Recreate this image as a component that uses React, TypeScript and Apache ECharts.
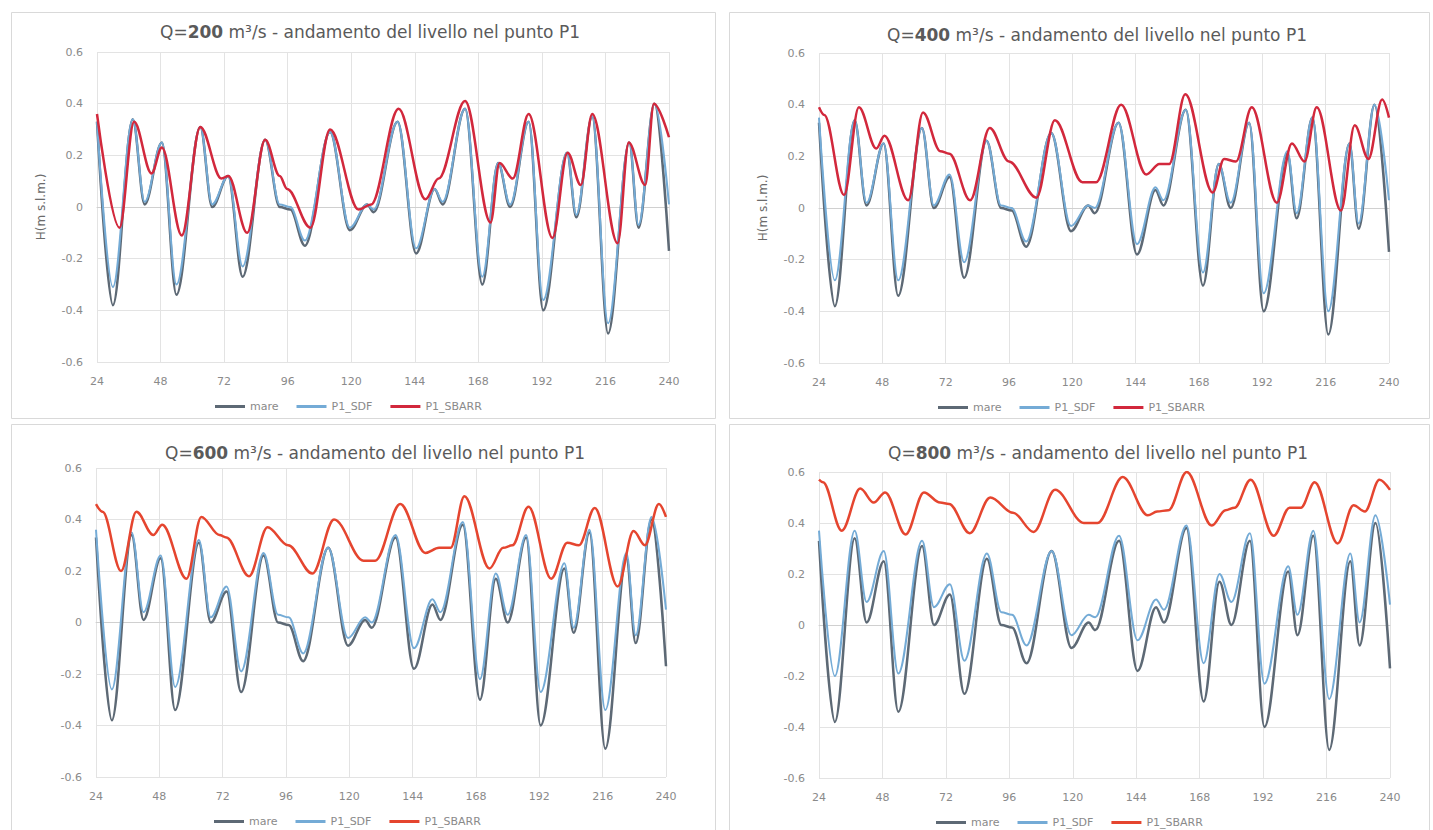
import React, { useEffect, useRef } from 'react';
import * as echarts from 'echarts';

// ---- data (hours, level m s.l.m.) ----
const discharges = ['200', '400', '600', '800'];
const seriesNames = ['mare', 'P1_SDF', 'P1_SBARR'];

const mareHours = [24, 30, 37.5, 42, 48.5, 54, 63, 67.5, 73.5, 79, 87.5, 93, 97, 102.5, 112, 119.5, 126, 128.5, 137.5, 144.5, 151.5, 154.5, 163, 169.5, 175.5, 180, 187, 192.5, 201.5, 205, 211, 217, 225, 228.5, 234.5, 240];
const mareLevel = [0.33, -0.38, 0.34, 0.01, 0.25, -0.34, 0.31, 0.0, 0.12, -0.27, 0.26, 0.0, -0.01, -0.15, 0.29, -0.09, 0.01, -0.02, 0.33, -0.18, 0.07, 0.01, 0.38, -0.30, 0.17, 0.0, 0.33, -0.40, 0.21, -0.04, 0.35, -0.49, 0.25, -0.08, 0.40, -0.17];

const sdfQ200 = [0.33, -0.31, 0.34, 0.02, 0.25, -0.30, 0.31, 0.01, 0.12, -0.23, 0.26, 0.01, 0.0, -0.13, 0.29, -0.08, 0.01, -0.01, 0.33, -0.16, 0.07, 0.02, 0.38, -0.27, 0.17, 0.01, 0.33, -0.36, 0.21, -0.03, 0.35, -0.45, 0.25, -0.07, 0.40, 0.01];
const sdfQ400 = [0.35, -0.28, 0.34, 0.02, 0.25, -0.28, 0.31, 0.01, 0.13, -0.21, 0.26, 0.01, 0.0, -0.13, 0.29, -0.07, 0.01, 0.0, 0.33, -0.14, 0.08, 0.03, 0.38, -0.25, 0.17, 0.02, 0.33, -0.33, 0.22, -0.02, 0.35, -0.40, 0.25, -0.06, 0.40, 0.03];
const sdfQ600 = [0.36, -0.26, 0.35, 0.04, 0.26, -0.25, 0.32, 0.02, 0.14, -0.19, 0.27, 0.03, 0.02, -0.12, 0.29, -0.06, 0.02, 0.0, 0.34, -0.10, 0.09, 0.04, 0.39, -0.22, 0.19, 0.03, 0.34, -0.27, 0.23, -0.02, 0.36, -0.34, 0.27, -0.05, 0.41, 0.05];
const sdfQ800 = [0.37, -0.20, 0.37, 0.09, 0.29, -0.19, 0.33, 0.07, 0.16, -0.14, 0.28, 0.05, 0.04, -0.08, 0.29, -0.04, 0.04, 0.03, 0.35, -0.06, 0.10, 0.06, 0.39, -0.15, 0.20, 0.09, 0.36, -0.23, 0.23, 0.04, 0.37, -0.29, 0.28, 0.01, 0.43, 0.08];

const sbarrHoursQ200 = [24, 32.5, 38, 44.6, 48.5, 56, 63, 71, 73.6, 80.7, 87.5, 93, 95.8, 104.6, 112, 122.8, 127.5, 137.9, 148, 153, 163, 172.6, 176, 181, 187, 196, 201.7, 206.7, 211, 220.6, 224.8, 231, 234.3, 240];
const sbarrLevelQ200 = [0.36, -0.08, 0.33, 0.13, 0.23, -0.11, 0.31, 0.11, 0.12, -0.10, 0.26, 0.12, 0.07, -0.08, 0.30, -0.01, 0.01, 0.38, 0.03, 0.11, 0.41, -0.06, 0.17, 0.11, 0.36, -0.12, 0.21, 0.085, 0.36, -0.14, 0.25, 0.085, 0.40, 0.27];

const sbarrHoursQ400 = [24, 26, 33.5, 39.1, 45.7, 48.8, 57.8, 63.4, 70, 73.4, 81.3, 88.7, 96, 106.4, 113.4, 123.8, 129, 138.5, 148, 153, 156.7, 162.8, 173.2, 177.5, 182, 188, 197.5, 203.2, 208, 212.6, 221.8, 227, 232.2, 237.4, 240];
const sbarrLevelQ400 = [0.39, 0.36, 0.05, 0.39, 0.23, 0.28, 0.03, 0.37, 0.22, 0.21, 0.03, 0.31, 0.18, 0.04, 0.34, 0.10, 0.10, 0.40, 0.13, 0.17, 0.17, 0.44, 0.06, 0.19, 0.18, 0.39, 0.02, 0.25, 0.18, 0.39, -0.01, 0.32, 0.19, 0.42, 0.35];

const sbarrHoursQ600 = [24, 26.5, 33.5, 39.3, 45.7, 49.1, 58.3, 63.9, 70.8, 73.4, 82, 89, 96.8, 106, 114.2, 125.4, 129.8, 139.3, 148.8, 154, 158.4, 163.6, 173.1, 178.3, 181.8, 187.9, 196.5, 202.6, 207, 213, 221.7, 227.7, 232, 237.3, 240];
const sbarrLevelQ600 = [0.46, 0.43, 0.20, 0.43, 0.34, 0.38, 0.17, 0.41, 0.34, 0.33, 0.18, 0.37, 0.30, 0.19, 0.40, 0.24, 0.24, 0.46, 0.27, 0.29, 0.29, 0.49, 0.21, 0.29, 0.30, 0.45, 0.17, 0.31, 0.30, 0.445, 0.14, 0.355, 0.30, 0.46, 0.41];

const sbarrHoursQ800 = [24, 25.5, 32.6, 39.6, 44.7, 49, 56.8, 63.7, 69.8, 73.2, 81, 88.8, 97.4, 105.2, 113.3, 124.2, 129.4, 138.9, 148.4, 151.9, 156.2, 163.1, 172.6, 177.8, 181.2, 187.3, 196, 202, 206.3, 211.5, 220.2, 226.2, 230.5, 236, 240];
const sbarrLevelQ800 = [0.57, 0.56, 0.37, 0.535, 0.48, 0.52, 0.355, 0.52, 0.48, 0.475, 0.36, 0.50, 0.44, 0.365, 0.53, 0.40, 0.40, 0.58, 0.43, 0.445, 0.45, 0.60, 0.39, 0.45, 0.46, 0.57, 0.35, 0.46, 0.46, 0.56, 0.32, 0.47, 0.445, 0.57, 0.53];

const sdfLevels = [sdfQ200, sdfQ400, sdfQ600, sdfQ800];
const sbarrHours = [sbarrHoursQ200, sbarrHoursQ400, sbarrHoursQ600, sbarrHoursQ800];
const sbarrLevels = [sbarrLevelQ200, sbarrLevelQ400, sbarrLevelQ600, sbarrLevelQ800];

// ---- layout / style ----
const FONT = 'DejaVu Sans';
const grids = [
  { left: 97, top: 52, width: 572, height: 310 },
  { left: 819, top: 53, width: 570, height: 310 },
  { left: 96, top: 468, width: 570, height: 309 },
  { left: 819, top: 472, width: 571, height: 306 },
];
const titlePos = [
  { x: 370, y: 32 },
  { x: 1097, y: 35 },
  { x: 375, y: 453 },
  { x: 1098, y: 453 },
];
const legendPos = [
  { left: 210, top: 396 },
  { left: 933, top: 397 },
  { left: 209, top: 811 },
  { left: 931, top: 812 },
];
const panels = [
  { x: 11.5, y: 12.5, w: 704, h: 406 },
  { x: 729.5, y: 12.5, w: 700, h: 406 },
  { x: 11.5, y: 424.5, w: 704, h: 420 },
  { x: 729.5, y: 424.5, w: 700, h: 420 },
];
const MARE_COLOR = '#5d6975';
const SDF_COLOR = '#74abd6';
const SBARR_COLORS = ['#d2283c', '#d2283c', '#e5452f', '#e5452f'];

function pairs(xs: number[], ys: number[]) {
  return xs.map((x, i) => [x, ys[i]]);
}

export default function App() {
  const ref = useRef<HTMLDivElement>(null);
  useEffect(() => {
    if (!ref.current) return;
    const chart = echarts.init(ref.current, null, { renderer: 'svg' });

    const xAxis: any[] = [];
    const yAxis: any[] = [];
    const series: any[] = [];
    const legend: any[] = [];
    const graphic: any[] = [];

    panels.forEach((p) => {
      graphic.push({
        type: 'rect',
        z: -10,
        shape: { x: p.x, y: p.y, width: p.w, height: p.h },
        style: { fill: '#ffffff', stroke: '#d9d9d9', lineWidth: 1 },
      });
    });

    discharges.forEach((q, i) => {
      xAxis.push({
        type: 'value',
        gridIndex: i,
        min: 24,
        max: 240,
        interval: 24,
        axisLine: { show: true, lineStyle: { color: '#d0d0d0', width: 1 } },
        axisTick: { show: false },
        axisLabel: { color: '#8a8a8a', fontSize: 11, fontFamily: FONT, margin: 14 },
        splitLine: { show: true, lineStyle: { color: '#e3e3e3', width: 1 } },
      });
      yAxis.push({
        type: 'value',
        gridIndex: i,
        min: -0.6,
        max: 0.6,
        interval: 0.2,
        name: i < 2 ? 'H(m s.l.m.)' : '',
        nameLocation: 'middle',
        nameGap: 50,
        nameTextStyle: { color: '#6b6b6b', fontSize: 12, fontFamily: FONT },
        axisLine: { show: false },
        axisTick: { show: false },
        axisLabel: {
          color: '#8a8a8a',
          fontSize: 11,
          fontFamily: FONT,
          margin: 14,
          formatter: (v: number) => (Math.abs(v) < 1e-9 ? '0' : v.toFixed(1)),
        },
        splitLine: { show: true, lineStyle: { color: '#e3e3e3', width: 1 } },
      });
      series.push({
        name: 'mare',
        type: 'line',
        xAxisIndex: i,
        yAxisIndex: i,
        data: pairs(mareHours, mareLevel),
        showSymbol: false,
        smooth: 0.35,
        smoothMonotone: 'x',
        lineStyle: { color: MARE_COLOR, width: 2.5 },
        itemStyle: { color: MARE_COLOR },
        z: 2,
      });
      series.push({
        name: 'P1_SDF',
        type: 'line',
        xAxisIndex: i,
        yAxisIndex: i,
        data: pairs(mareHours, sdfLevels[i]),
        showSymbol: false,
        smooth: 0.35,
        smoothMonotone: 'x',
        lineStyle: { color: SDF_COLOR, width: 2 },
        itemStyle: { color: SDF_COLOR },
        z: 3,
      });
      series.push({
        name: 'P1_SBARR',
        type: 'line',
        xAxisIndex: i,
        yAxisIndex: i,
        data: pairs(sbarrHours[i], sbarrLevels[i]),
        showSymbol: false,
        smooth: 0.35,
        smoothMonotone: 'x',
        lineStyle: { color: SBARR_COLORS[i], width: 2.5 },
        itemStyle: { color: SBARR_COLORS[i] },
        z: 4,
      });
      legend.push({
        left: legendPos[i].left,
        top: legendPos[i].top,
        orient: 'horizontal',
        icon: 'rect',
        itemWidth: 30,
        itemHeight: 3,
        itemGap: 18,
        selectedMode: false,
        textStyle: { color: '#8a8a8a', fontSize: 11, fontFamily: FONT },
        data: [
          { name: seriesNames[0], itemStyle: { color: MARE_COLOR } },
          { name: seriesNames[1], itemStyle: { color: SDF_COLOR } },
          { name: seriesNames[2], itemStyle: { color: SBARR_COLORS[i] } },
        ],
      });
      const richA = { fontSize: 17, fontFamily: FONT, color: '#5a5a5a', fill: '#5a5a5a' };
      const richB = { ...richA, fontWeight: 'bold' };
      graphic.push({
        type: 'text',
        x: titlePos[i].x,
        y: titlePos[i].y,
        style: {
          text: `{a|Q=}{b|${q}}{a| m³/s - andamento del livello nel punto P1}`,
          rich: { a: richA, b: richB },
          align: 'center',
          verticalAlign: 'middle',
          textAlign: 'center',
          textVerticalAlign: 'middle',
          fill: '#5a5a5a',
          font: `17px ${FONT}`,
        },
      });
    });

    chart.setOption({
      animation: false,
      backgroundColor: '#ffffff',
      grid: grids.map((g) => ({ ...g, containLabel: false })),
      xAxis,
      yAxis,
      series,
      legend,
      graphic,
    });
    return () => chart.dispose();
  }, []);
  return (
    <div
      ref={ref}
      style={{ position: 'absolute', left: 0, top: 0, width: 1433, height: 830, background: '#fff' }}
    />
  );
}
